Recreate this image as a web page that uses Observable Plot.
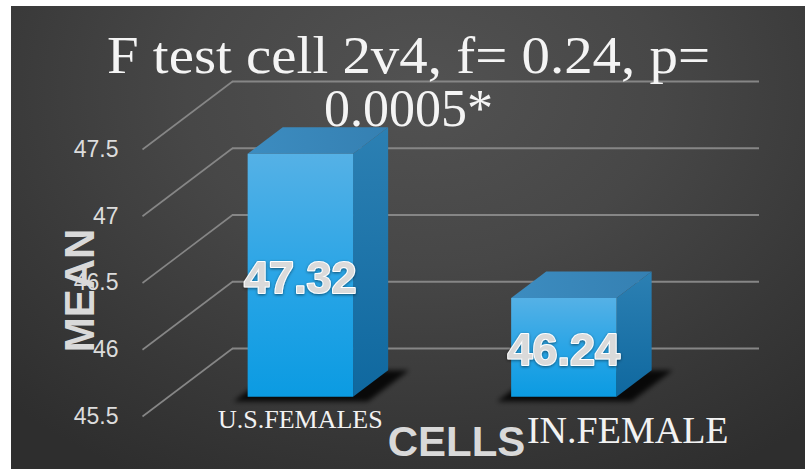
<!DOCTYPE html>
<html><head><meta charset="utf-8">
<script src="https://cdn.jsdelivr.net/npm/d3@7"></script>
<script src="https://cdn.jsdelivr.net/npm/@observablehq/plot@0.6"></script>
<style>
html,body{margin:0;padding:0;background:#fff;}
#wrap{position:relative;width:805px;height:469px;overflow:hidden;}
#bg{position:absolute;left:11px;top:6px;right:0;bottom:0;
  background:radial-gradient(ellipse 75% 95% at 52% 18%, #525252 0%, #474747 40%, #383838 75%, #2e2e2e 100%);}
#chart{position:absolute;left:0;top:0;}
</style></head><body>
<div id="wrap"><div id="bg"></div><div id="chart"></div></div>
<script>
(function () {
// ---- data ----
const categories = ["U.S.FEMALES", "IN.FEMALE"];
const means = [47.32, 46.24];
const yTicks = [45.5, 46, 46.5, 47, 47.5];
const tickLabels = ["45.5", "46", "46.5", "47", "47.5"];
const titleLines = ["F test cell 2v4, f= 0.24, p=", "0.0005*"];
const yTitle = "MEAN";
const xTitle = "CELLS";

// ---- oblique 3D projection (data units per unit of depth) ----
const BASE = yTicks[0];
const KX = -90 / 263.5, KY = -68 / 133.5;
const ZB = 0.32, ZF = 0.71;           // bar depth (0 = back wall, 1 = front)
const BW = 0.4;                        // bar width in category units
const P = (x, y, z, id) => ({x: x + z * KX, y: y + z * KY, id});

const faceFront = [], faceSide = [], faceTop = [], faceShadow = [];
means.forEach((v, i) => {
  const x0 = i + 0.5 - BW / 2, x1 = i + 0.5 + BW / 2;
  faceFront.push(P(x0, BASE, ZF, i), P(x1, BASE, ZF, i), P(x1, v, ZF, i), P(x0, v, ZF, i));
  faceSide.push(P(x1, BASE, ZF, i), P(x1, v, ZF, i), P(x1, v, ZB, i), P(x1, BASE, ZB, i));
  faceTop.push(P(x0, v, ZF, i), P(x1, v, ZF, i), P(x1, v, ZB, i), P(x0, v, ZB, i));
  faceShadow.push(P(x0 - 0.03, BASE, ZF + 0.07, i), P(x1 + 0.08, BASE, ZF + 0.07, i),
              P(x1 + 0.08, BASE, ZB, i), P(x0 - 0.03, BASE, ZB, i));
});

const sans = "Liberation Sans, Arial, sans-serif";
const serif = "Liberation Serif, Times New Roman, serif";

const svg = Plot.plot({
  width: 805, height: 469,
  marginLeft: 232, marginRight: 46, marginTop: 81, marginBottom: 121,
  x: {type: "linear", domain: [0, 2], axis: null},
  y: {type: "linear", domain: [BASE, yTicks[yTicks.length - 1]], axis: null},
  style: {background: "transparent", overflow: "visible"},
  marks: [
    Plot.ruleY(yTicks, {stroke: "#868686", strokeWidth: 1.8}),
    Plot.link(yTicks, {x1: 0, y1: d => d, x2: KX, y2: d => d + KY, stroke: "#868686", strokeWidth: 1.6}),
    Plot.text(yTicks, {x: KX, y: d => d + KY, text: (d, i) => tickLabels[i], textAnchor: "end", dx: -24,
      fontSize: 23, fontFamily: sans, fill: "#dcdcdc"}),
    Plot.line(faceShadow, {x: "x", y: "y", z: "id", fill: "#010101", stroke: "none", fillOpacity: 0.85}),
    Plot.line(faceSide, {x: "x", y: "y", z: "id", fill: "url(#gSide)", stroke: "none"}),
    Plot.line(faceTop, {x: "x", y: "y", z: "id", fill: "url(#gTop)", stroke: "none"}),
    Plot.line(faceFront, {x: "x", y: "y", z: "id", fill: "url(#gFront)", stroke: "none"}),
    Plot.text(means, {x: (d, i) => i + 0.5 + ZF * KX, y: d => (BASE + d) / 2 + ZF * KY, dy: 3,
      text: d => d.toFixed(2), fontSize: 45, fontWeight: "bold", fontFamily: sans,
      fill: "#dadada", stroke: "#ffffff", strokeWidth: 2}),
    Plot.text([categories[0]], {x: 0.5 + ZF * KX, y: BASE, dy: 79, lineAnchor: "bottom",
      fontSize: 26, fontFamily: serif, fill: "#f2f2f2"}),
    Plot.text([categories[1]], {x: 1.5, y: BASE, dy: 94, lineAnchor: "bottom",
      fontSize: 38, fontFamily: serif, fill: "#f2f2f2"}),
    Plot.text([xTitle], {frameAnchor: "top-left", textAnchor: "middle", dx: 224, dy: 374, lineAnchor: "bottom",
      fontSize: 42, fontWeight: "bold", fontFamily: sans, fill: "#d9d9d9"}),
    Plot.text([yTitle], {frameAnchor: "top-left", textAnchor: "middle", dx: -168, dy: 209, rotate: -90,
      fontSize: 42, fontWeight: "bold", fontFamily: sans, fill: "#d9d9d9"}),
    Plot.text([titleLines[0]], {frameAnchor: "top-left", textAnchor: "middle", dx: 176, dy: -9, lineAnchor: "bottom",
      fontSize: 52, fontFamily: serif, fill: "#f4f4f4"}),
    Plot.text([titleLines[1]], {frameAnchor: "top-left", textAnchor: "middle", dx: 176, dy: 44, lineAnchor: "bottom",
      fontSize: 52, fontFamily: serif, fill: "#f4f4f4"})
  ]
});

const s = d3.select(svg);
s.insert("defs", ":first-child").html(`
  <linearGradient id="gFront" x1="0" y1="0" x2="0" y2="1">
    <stop offset="0" stop-color="#55b1e6"/><stop offset="0.5" stop-color="#2aa5e6"/><stop offset="1" stop-color="#0b9be2"/>
  </linearGradient>
  <linearGradient id="gSide" x1="0" y1="0" x2="0" y2="1">
    <stop offset="0" stop-color="#2c80b3"/><stop offset="1" stop-color="#0f689f"/>
  </linearGradient>
  <linearGradient id="gTop" x1="0" y1="0" x2="1" y2="0">
    <stop offset="0" stop-color="#3c8cc0"/><stop offset="1" stop-color="#3580b2"/>
  </linearGradient>
  <filter id="blur" x="-20%" y="-50%" width="140%" height="200%"><feGaussianBlur stdDeviation="2.5"/></filter>
  <filter id="glow" x="-10%" y="-20%" width="120%" height="140%"><feDropShadow dx="0" dy="1" stdDeviation="1.5" flood-color="#000" flood-opacity="0.5"/></filter>
`);
s.selectAll('[fill="#010101"]').attr("filter", "url(#blur)");
const valueTexts = means.map(d => d.toFixed(2));
s.selectAll("text").filter(function () { return valueTexts.includes(this.textContent); })
  .attr("filter", "url(#glow)");
s.selectAll("text").filter(function () { return this.textContent === titleLines[0]; })
  .attr("textLength", 603).attr("lengthAdjust", "spacingAndGlyphs");
document.getElementById("chart").appendChild(svg);
})();
</script>
</body></html>
